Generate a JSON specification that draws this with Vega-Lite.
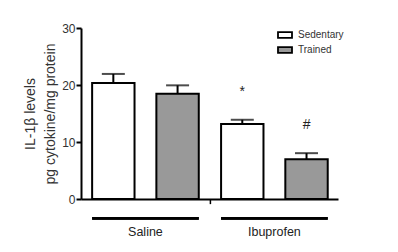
{
  "$schema": "https://vega.github.io/schema/vega-lite/v6.json",
  "autosize": "none",
  "width": 257,
  "height": 171,
  "padding": {"left": 81, "top": 28, "right": 60, "bottom": 53},
  "background": "white",
  "config": {
    "view": {"stroke": null},
    "font": "Liberation Sans",
    "axis": {"domainColor": "black", "domainWidth": 2, "tickColor": "black", "tickWidth": 2, "labelColor": "#333", "titleColor": "#333", "grid": false, "labelFont": "Liberation Sans", "titleFont": "Liberation Sans"}
  },
  "data": {"values": [
    {"group": "Saline", "treatment": "Sedentary", "mean": 20.36, "upper": 21.94, "sig": ""},
    {"group": "Saline", "treatment": "Trained", "mean": 18.48, "upper": 19.94, "sig": ""},
    {"group": "Ibuprofen", "treatment": "Sedentary", "mean": 13.14, "upper": 13.9, "sig": "*"},
    {"group": "Ibuprofen", "treatment": "Trained", "mean": 6.99, "upper": 8.04, "sig": "#"}
  ]},
  "encoding": {
    "x": {"field": "group", "type": "nominal", "sort": ["Saline", "Ibuprofen"],
      "scale": {"paddingInner": 0.173, "paddingOuter": 0.083, "align": 0.52},
      "axis": {"title": null, "ticks": false, "labelPadding": 26, "labelFontSize": 12.5, "labelAngle": 0, "labelColor": "#222"}}
  },
  "layer": [
    {
      "mark": {"type": "bar", "stroke": "black", "strokeWidth": 2},
      "encoding": {
        "xOffset": {"field": "treatment", "type": "nominal", "sort": ["Sedentary", "Trained"], "scale": {"paddingInner": 0.34, "paddingOuter": 0}},
        "y": {"field": "mean", "type": "quantitative", "scale": {"domain": [0, 30], "nice": false},
          "axis": {"values": [0, 10, 20, 30], "tickSize": 5, "labelPadding": 1, "labelFontSize": 12,
            "title": ["IL-1β levels", "pg cytokine/mg protein"], "titleFontSize": 14, "titleFontWeight": "normal", "titleLineHeight": 20, "titlePadding": 0, "titleX": -44}},
        "color": {"field": "treatment", "type": "nominal", "sort": ["Sedentary", "Trained"],
          "scale": {"domain": ["Sedentary", "Trained"], "range": ["white", "#999999"]},
          "legend": {"title": null, "orient": "none", "legendX": 196, "legendY": -1, "padding": 0,
            "symbolType": "M-1,-0.4H1V0.4H-1Z", "symbolSize": 196, "symbolStrokeColor": "black", "symbolStrokeWidth": 1.8,
            "labelFontSize": 10, "labelColor": "#333", "labelOffset": 5, "rowPadding": -2}}
      }
    },
    {
      "mark": {"type": "rule", "color": "black", "strokeWidth": 2},
      "encoding": {
        "xOffset": {"field": "treatment", "type": "nominal", "sort": ["Sedentary", "Trained"]},
        "y": {"field": "mean", "type": "quantitative"},
        "y2": {"field": "upper"}
      }
    },
    {
      "mark": {"type": "tick", "color": "black", "orient": "horizontal", "size": 23, "thickness": 2},
      "encoding": {
        "xOffset": {"field": "treatment", "type": "nominal", "sort": ["Sedentary", "Trained"]},
        "y": {"field": "upper", "type": "quantitative"}
      }
    },
    {
      "mark": {"type": "text", "fontSize": 14, "color": "#222", "baseline": "alphabetic", "dy": -24},
      "encoding": {
        "xOffset": {"field": "treatment", "type": "nominal", "sort": ["Sedentary", "Trained"]},
        "y": {"field": "upper", "type": "quantitative"},
        "text": {"field": "sig"}
      }
    },
    {
      "mark": {"type": "bar", "color": "black"},
      "encoding": {
        "y": {"datum": -3.15},
        "y2": {"datum": -3.65}
      }
    },
    {
      "data": {"values": [{}]},
      "mark": {"type": "rule", "color": "black", "strokeWidth": 1.5, "xOffset": -64},
      "encoding": {
        "x": {"datum": "Ibuprofen"},
        "y": {"datum": 0},
        "y2": {"datum": -0.9}
      }
    }
  ]
}
